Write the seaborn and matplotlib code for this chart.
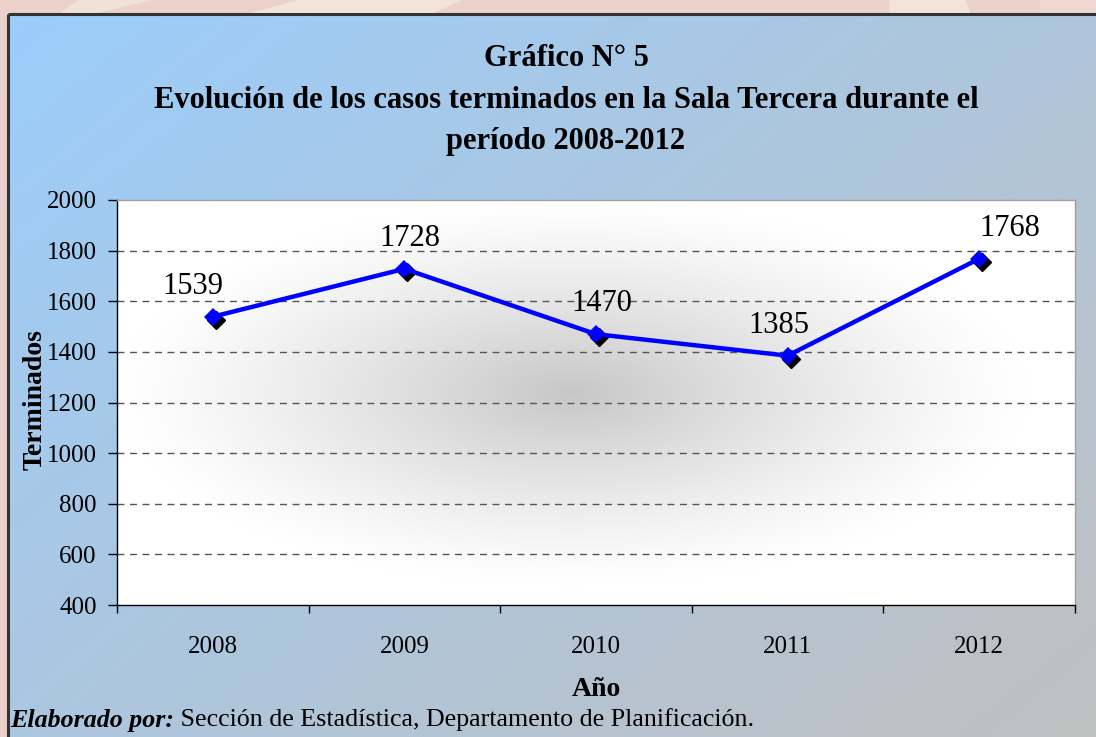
import numpy as np
import matplotlib
matplotlib.use("Agg")
import matplotlib.pyplot as plt
import matplotlib.transforms as mtransforms
from matplotlib.patches import Polygon
import seaborn as sns
import pandas as pd

# ---- data ----
years = ["2008", "2009", "2010", "2011", "2012"]
terminados = [1539, 1728, 1470, 1385, 1768]
y_ticks = [400, 600, 800, 1000, 1200, 1400, 1600, 1800, 2000]

title_lines = ["Gráfico N° 5",
               "Evolución de los casos terminados en la Sala Tercera durante el",
               "período 2008-2012"]
x_label = "Año"
y_label = "Terminados"
footer_bold = "Elaborado por:"
footer_text = " Sección de Estadística, Departamento de Planificación."

df = pd.DataFrame({"pos": np.arange(len(years)), "val": terminados})

sns.set_theme(style="white")
plt.rcParams["font.family"] = ["Liberation Serif", "DejaVu Serif"]
plt.rcParams["text.color"] = "black"
plt.rcParams["xtick.color"] = "black"
plt.rcParams["ytick.color"] = "black"
plt.rcParams["axes.labelcolor"] = "black"

W, H = 1096, 737
fig = plt.figure(figsize=(W / 100, H / 100), dpi=100)
fig.patch.set_facecolor("#ebd0cb")

# background decoration (top strip)
bg = fig.add_axes([0, 0, 1, 1], zorder=-10)
bg.set_xlim(0, W); bg.set_ylim(H, 0); bg.axis("off")
bg.add_patch(Polygon([[80, 0], [150, 0], [90, 14], [60, 14]], color="#f1e2d8", zorder=0))
bg.add_patch(Polygon([[300, 0], [460, 0], [430, 14], [250, 14]], color="#f3e4da", zorder=0))
bg.add_patch(Polygon([[890, 0], [965, 0], [970, 14], [890, 14]], color="#f3e4da", zorder=0))
bg.add_patch(Polygon([[1040, 0], [1096, 0], [1096, 14], [1040, 14]], color="#efd8d2", zorder=0))

# panel diagonal gradient
px0, py0 = 8, 14
nx, ny = 200, 140
gx = np.linspace(0, 1, nx)[None, :]
gy = np.linspace(0, 1, ny)[:, None]
t = np.clip(0.55 * gx + 0.45 * gy, 0, 1)
c0 = np.array([155, 205, 251]) / 255
c1 = np.array([192, 192, 192]) / 255
img = c0[None, None, :] * (1 - t[..., None]) + c1[None, None, :] * t[..., None]
bg.imshow(img, extent=[px0, W, H, py0], aspect="auto", zorder=1, interpolation="bilinear")
bg.plot([px0, W], [py0, py0], color="#333333", lw=2.2, zorder=2, solid_capstyle="butt")
bg.plot([px0, px0], [py0, H], color="#333333", lw=2.2, zorder=2, solid_capstyle="butt")

# ---- main axes ----
left, right, top, bottom = 117, 1075, 200, 605
ax = fig.add_axes([left / W, 1 - bottom / H, (right - left) / W, (bottom - top) / H])

# radial gradient plot area
rx = np.linspace(-1, 1, 300)[None, :]
ry = np.linspace(-1, 1, 200)[:, None]
d = np.sqrt(((rx + 0.05) / 0.95) ** 2 + ((ry + 0.05) / 0.95) ** 2)
shade = 1 - 0.22 * np.clip(1 - d, 0, 1) ** 1.2
ax.imshow(np.dstack([shade] * 3), extent=[0, 1, 0, 1], transform=ax.transAxes,
          aspect="auto", zorder=0, interpolation="bilinear")

ax.set_xlim(-0.5, len(years) - 0.5)
ax.set_ylim(400, 2000)

for yv in y_ticks[1:-1]:
    ax.axhline(yv, color="#555555", lw=1.0, ls=(0, (5, 4)), zorder=1)

# shadow markers
shadow_tr = mtransforms.offset_copy(ax.transData, fig=fig, x=3, y=-3, units="dots")
ax.plot(df["pos"], df["val"], ls="none", marker="D", ms=9, color="black",
        transform=shadow_tr, zorder=2)
sns.lineplot(data=df, x="pos", y="val", ax=ax, color="#0000ff", lw=3.2,
             marker="D", markersize=9, markeredgewidth=0, zorder=3)

label_dx = [-14, 4, 4, -6, 22]
for i, v in enumerate(terminados):
    ax.annotate(str(v), (i, v), xytext=(label_dx[i], 22), textcoords="offset points",
                ha="center", va="center", fontsize=22, color="black", zorder=4)

ax.set_xticks(range(len(years)))
ax.set_xticklabels(years, fontsize=18)
ax.set_xticks(np.arange(-0.5, len(years), 1), minor=True)
ax.tick_params(axis="x", which="major", length=0, pad=22)
ax.tick_params(axis="x", which="minor", length=6, width=1, color="black", direction="out", bottom=True)
ax.set_yticks(y_ticks)
ax.set_yticklabels([str(v) for v in y_ticks], fontsize=18)
ax.tick_params(axis="y", length=6.5, width=1, color="black", direction="out", left=True, pad=8)

for s in ["left", "bottom"]:
    ax.spines[s].set_color("black"); ax.spines[s].set_linewidth(1.0)
for s in ["top", "right"]:
    ax.spines[s].set_color("#a0a0a0"); ax.spines[s].set_linewidth(1.0)

ax.set_xlabel("")
ax.set_ylabel("")

# titles & labels
fig.text(566 / W, 1 - 58 / H, title_lines[0], ha="center", va="center", fontsize=22, fontweight="bold")
fig.text(566 / W, 1 - 100 / H, title_lines[1], ha="center", va="center", fontsize=22, fontweight="bold")
fig.text(566 / W, 1 - 142 / H, title_lines[2], ha="center", va="center", fontsize=22, fontweight="bold")
fig.text(596 / W, 1 - 690 / H, x_label, ha="center", va="center", fontsize=20, fontweight="bold")
fig.text(35 / W, 1 - 400 / H, y_label, ha="center", va="center", fontsize=20, fontweight="bold", rotation=90)

t1 = fig.text(10 / W, 1 - 720 / H, footer_bold, ha="left", va="center", fontsize=18.7,
              fontweight="bold", fontstyle="italic")
fig.canvas.draw()
bb = t1.get_window_extent()
fig.text(bb.x1 / W, 1 - 720 / H, footer_text, ha="left", va="center", fontsize=18.7)

fig.savefig("out.png", dpi=100)
